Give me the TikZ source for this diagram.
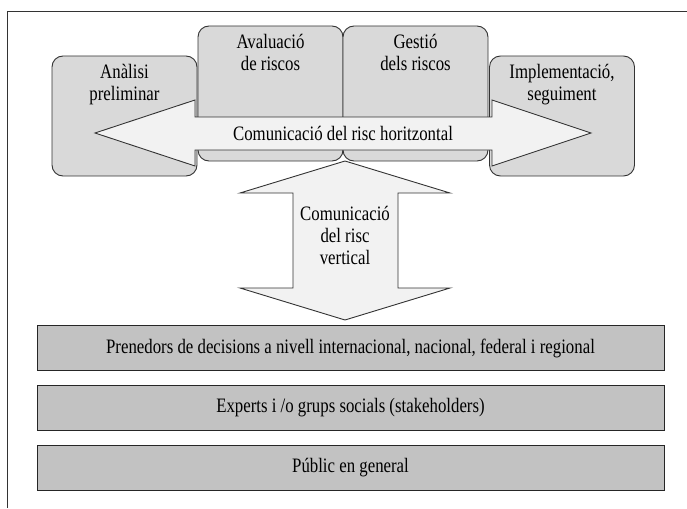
\documentclass[tikz,border=0pt]{standalone}
\usepackage{fontspec}
\setmainfont{Liberation Serif}[FakeStretch=0.82]
\usepackage{tikz}
\usetikzlibrary{calc,positioning}
\definecolor{grisfase}{rgb}{0.85,0.85,0.85}
\definecolor{grisnivell}{rgb}{0.76,0.76,0.76}
\definecolor{grisfletxa}{rgb}{0.95,0.95,0.95}
\definecolor{vora}{rgb}{0.2,0.2,0.2}
\tikzset{
  fase/.style={
    rounded corners=11pt,
    draw=vora,
    fill=grisfase,
    line width=0.9pt,
    minimum width=145pt,
    inner sep=0pt
  },
  txt/.style={
    align=center,
    font=\fontsize{20.5}{22}\selectfont,
    inner sep=0pt
  },
  fletxa/.style={
    draw=vora,
    fill=grisfletxa,
    line width=0.9pt,
    line join=miter
  },
  nivell/.style={
    draw=black!85,
    fill=grisnivell,
    line width=0.9pt,
    minimum width=627pt,
    minimum height=45pt,
    inner sep=0pt,
    font=\fontsize{20.5}{22}\selectfont
  }
}

\begin{document}
\begin{tikzpicture}[x=1pt,y=-1pt]
\useasboundingbox (0,0) rectangle (687,508);
% marc
\draw[line width=0.9pt,vora] (7,508) -- (7,11) -- (687,11);

% fases del proces
\node[fase,minimum height=120pt] (anal) at (124.5,116) {};
\node[fase,minimum height=135pt] (aval) at (270.5,93.5) {};
\node[fase,minimum height=135pt] (gest) at (415.5,93.5) {};
\node[fase,minimum height=120pt] (impl) at (562,116) {};
\node[txt,below=8pt of anal.north] {Anàlisi\\preliminar};
\node[txt,below=8pt of aval.north] {Avaluació\\de riscos};
\node[txt,below=8pt of gest.north] {Gestió\\dels riscos};
\node[txt,below=8pt of impl.north] {Implementació,\\seguiment};

% comunicacio horitzontal
\draw[fletxa] (95,133) -- (195,100) -- (195,117) -- (492,117) -- (492,100)
  -- (591,133) -- (492,166) -- (492,150) -- (195,150) -- (195,166) -- cycle;
\node[txt] (horit) at (343,133) {Comunicació del risc horitzontal};

% comunicacio vertical
\draw[fletxa] (345,161) -- (450,193) -- (398,193) -- (398,288) -- (450,288)
  -- (345,320) -- (240,288) -- (293,288) -- (293,193) -- (240,193) -- cycle;
\node[txt] (vert) at (345,235) {Comunicació\\del risc\\vertical};

% nivells
\node[nivell] (prened) at (350.5,348) {Prenedors de decisions a nivell internacional, nacional, federal i regional};
\node[nivell] (experts) at (350.5,408) {Experts i /o grups socials (stakeholders)};
\node[nivell] (public) at (350.5,468) {Públic en general};
\end{tikzpicture}
\end{document}
